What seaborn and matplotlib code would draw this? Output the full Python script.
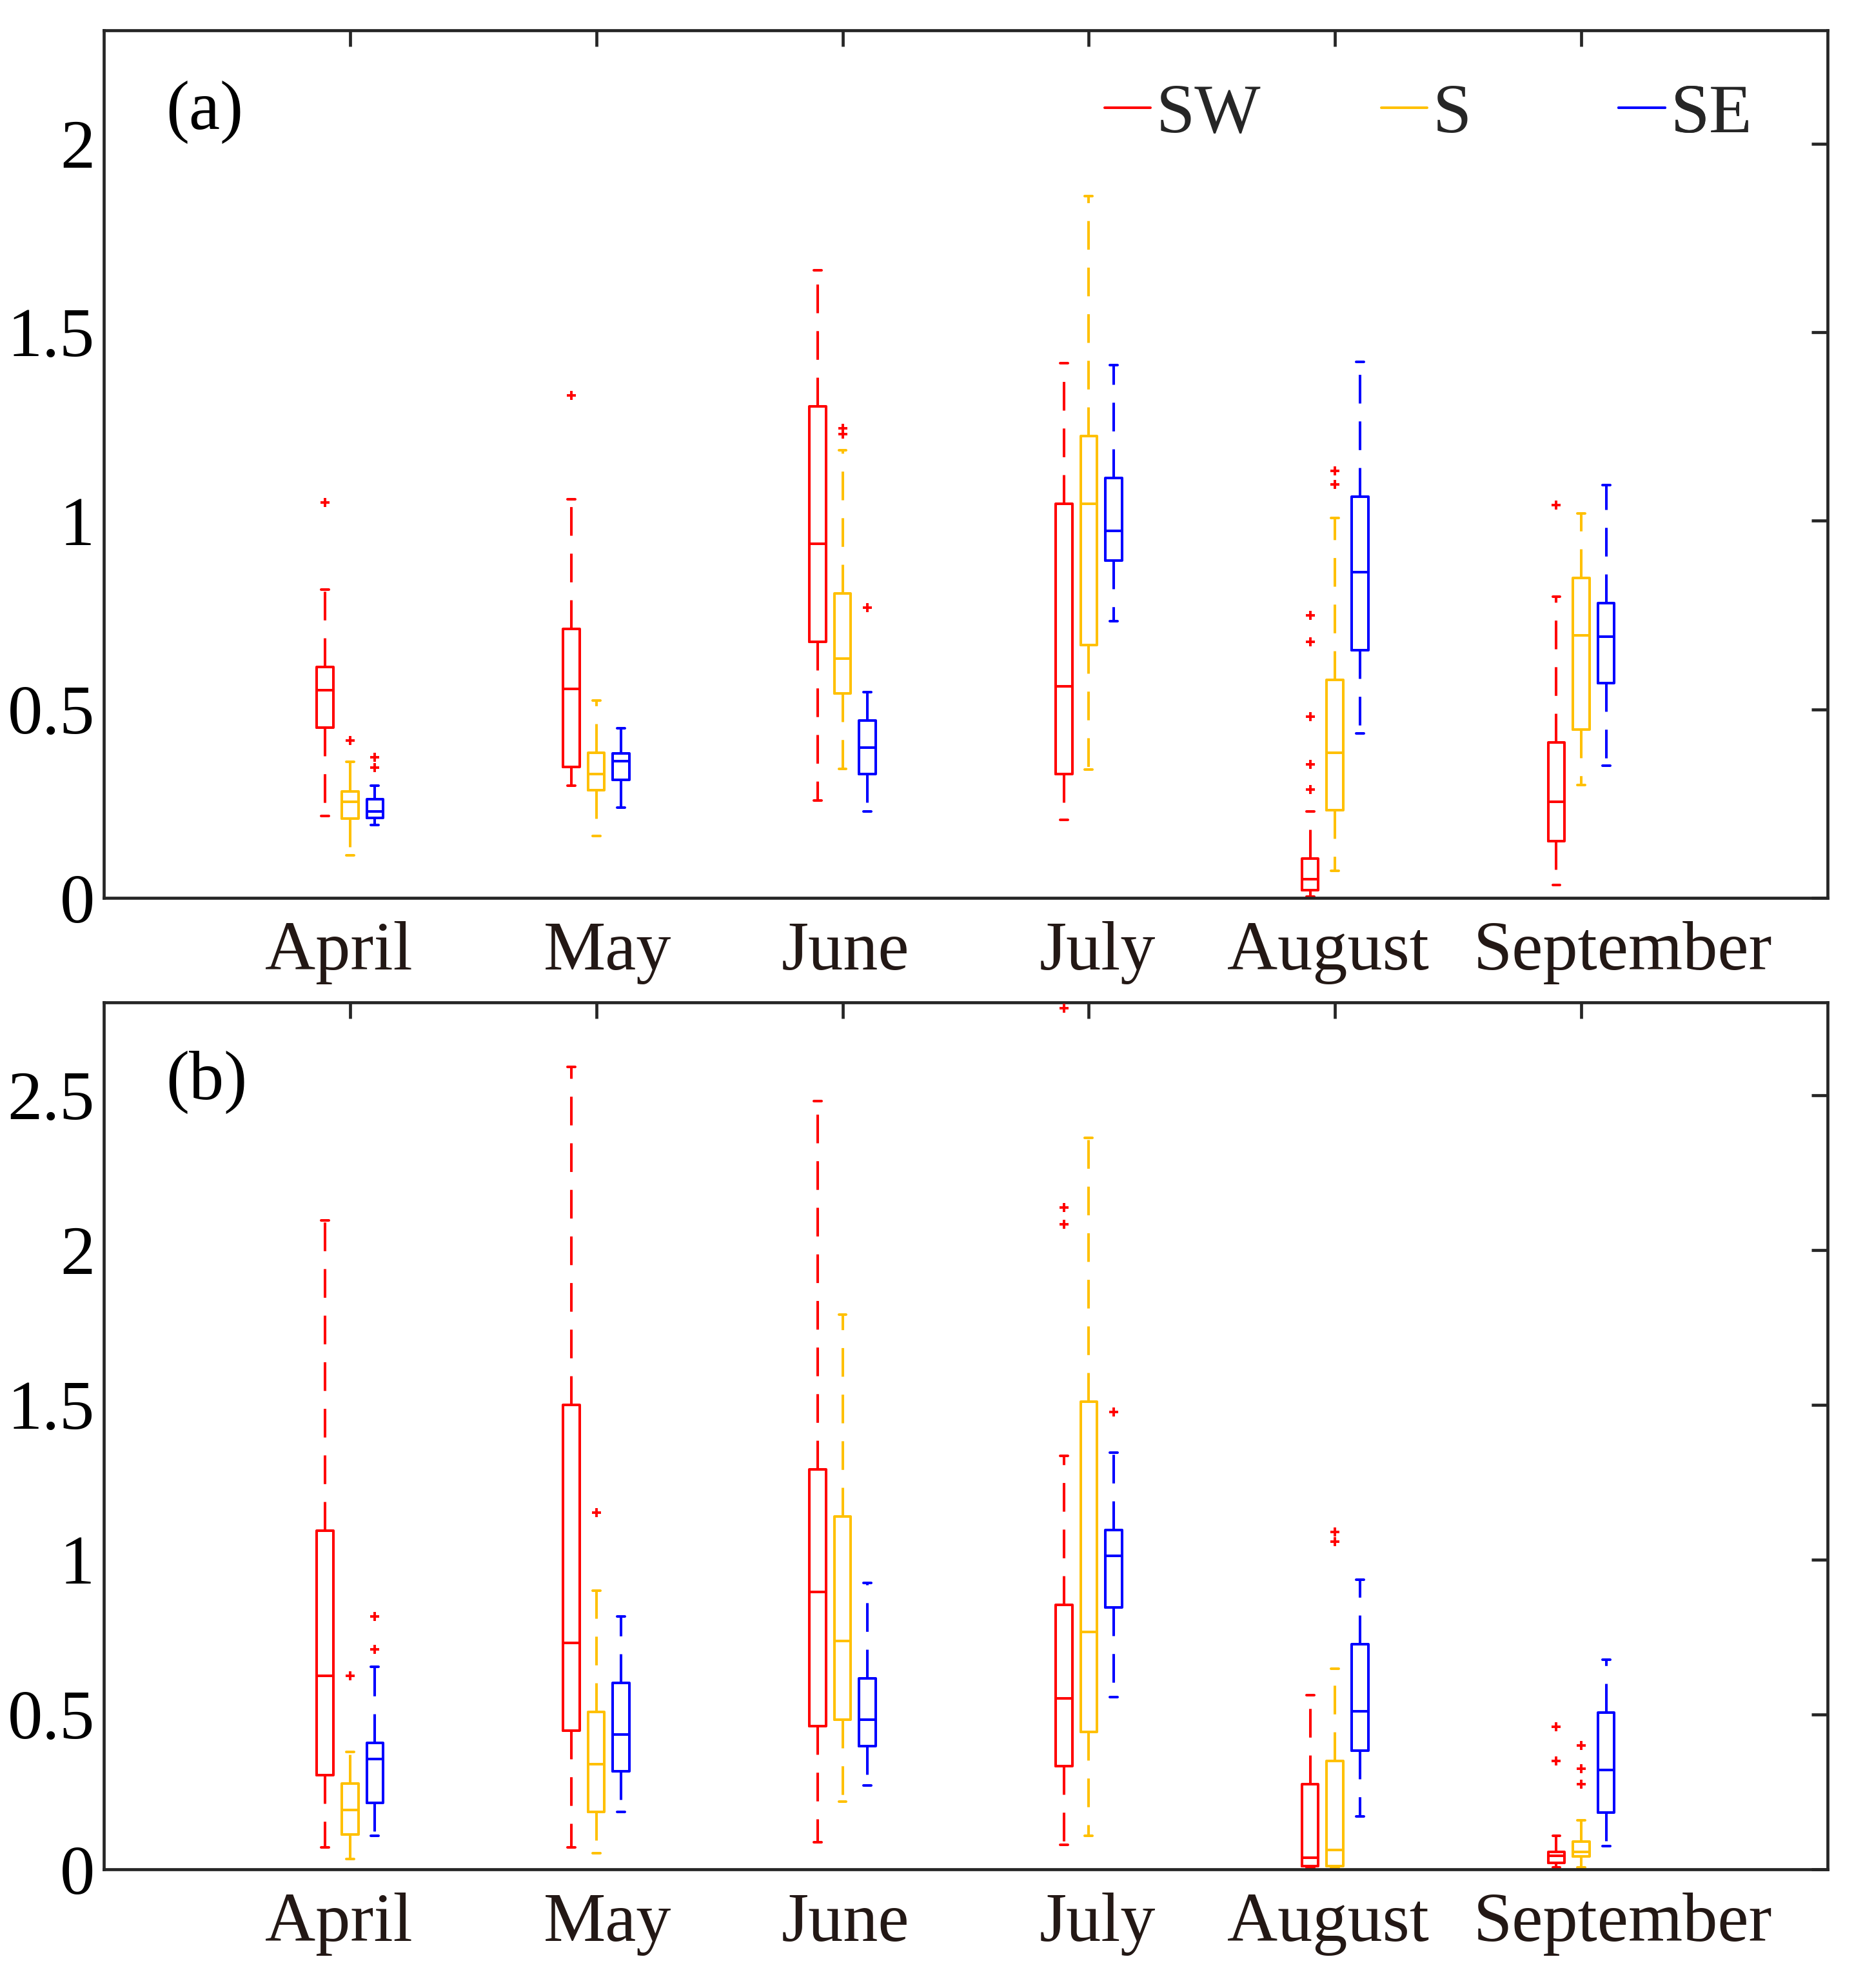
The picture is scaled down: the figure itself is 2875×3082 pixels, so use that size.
import matplotlib
matplotlib.use("Agg")
import matplotlib.pyplot as plt
from matplotlib.lines import Line2D
import seaborn as sns
import pandas as pd
import numpy as np

# ---------------- data ----------------
months = ['April', 'May', 'June', 'July', 'August', 'September']
series = ['SW', 'S', 'SE']
colors = {'SW': '#FF0000', 'S': '#FFC000', 'SE': '#0000FF'}

# panel (a)
a_SW_whislo = [0.218, 0.297, 0.259, 0.208, 0.003, 0.034]
a_SW_q1     = [0.452, 0.348, 0.679, 0.328, 0.020, 0.150]
a_SW_med    = [0.551, 0.555, 0.939, 0.561, 0.049, 0.255]
a_SW_q3     = [0.613, 0.714, 1.304, 1.045, 0.104, 0.413]
a_SW_whishi = [0.818, 1.057, 1.664, 1.418, 0.230, 0.798]
a_SW_fliers = [[1.049], [1.333], [], [], [0.750, 0.679, 0.481, 0.355, 0.287], [1.042]]

a_S_whislo = [0.113, 0.165, 0.343, 0.341, 0.072, 0.299]
a_S_q1     = [0.210, 0.286, 0.543, 0.671, 0.232, 0.447]
a_S_med    = [0.255, 0.329, 0.634, 1.045, 0.385, 0.697]
a_S_q3     = [0.282, 0.385, 0.807, 1.224, 0.578, 0.849]
a_S_whishi = [0.361, 0.523, 1.187, 1.861, 1.008, 1.020]
a_S_fliers = [[0.417], [], [1.245, 1.229], [], [1.133, 1.096], []]

a_SE_whislo = [0.193, 0.240, 0.230, 0.734, 0.437, 0.351]
a_SE_q1     = [0.213, 0.314, 0.328, 0.894, 0.657, 0.570]
a_SE_med    = [0.230, 0.363, 0.398, 0.973, 0.864, 0.692]
a_SE_q3     = [0.262, 0.383, 0.471, 1.113, 1.064, 0.782]
a_SE_whishi = [0.297, 0.450, 0.546, 1.412, 1.422, 1.094]
a_SE_fliers = [[0.373, 0.346], [], [0.770], [], [], []]

# panel (b)
b_SW_whislo = [0.070, 0.070, 0.088, 0.080, 0.004, 0.006]
b_SW_q1     = [0.305, 0.448, 0.462, 0.333, 0.010, 0.020]
b_SW_med    = [0.626, 0.732, 0.895, 0.552, 0.037, 0.043]
b_SW_q3     = [1.094, 1.500, 1.292, 0.854, 0.274, 0.057]
b_SW_whishi = [2.095, 2.592, 2.482, 1.335, 0.562, 0.108]
b_SW_fliers = [[], [], [], [2.782, 2.138, 2.083], [], [0.460, 0.350]]

b_S_whislo = [0.033, 0.053, 0.219, 0.108, 0.004, 0.006]
b_S_q1     = [0.112, 0.186, 0.484, 0.444, 0.010, 0.041]
b_S_med    = [0.192, 0.339, 0.738, 0.767, 0.063, 0.057]
b_S_q3     = [0.278, 0.509, 1.139, 1.511, 0.350, 0.090]
b_S_whishi = [0.380, 0.901, 1.791, 2.363, 0.648, 0.159]
b_S_fliers = [[0.626], [1.153], [], [], [1.090, 1.059], [0.401, 0.325, 0.274]]

b_SE_whislo = [0.108, 0.186, 0.270, 0.556, 0.170, 0.076]
b_SE_q1     = [0.215, 0.317, 0.397, 0.846, 0.384, 0.184]
b_SE_med    = [0.356, 0.435, 0.484, 1.012, 0.511, 0.321]
b_SE_q3     = [0.409, 0.603, 0.617, 1.096, 0.728, 0.507]
b_SE_whishi = [0.654, 0.816, 0.926, 1.345, 0.936, 0.677]
b_SE_fliers = [[0.816, 0.711], [], [], [1.478], [], []]

a_yticks = [0, 0.5, 1, 1.5, 2]
a_yticklabels = ['0', '0.5', '1', '1.5', '2']
b_yticks = [0, 0.5, 1, 1.5, 2, 2.5]
b_yticklabels = ['0', '0.5', '1', '1.5', '2', '2.5']
panel_labels = ['(a)', '(b)']

panels = [
    {'SW': (a_SW_whislo, a_SW_q1, a_SW_med, a_SW_q3, a_SW_whishi, a_SW_fliers),
     'S': (a_S_whislo, a_S_q1, a_S_med, a_S_q3, a_S_whishi, a_S_fliers),
     'SE': (a_SE_whislo, a_SE_q1, a_SE_med, a_SE_q3, a_SE_whishi, a_SE_fliers)},
    {'SW': (b_SW_whislo, b_SW_q1, b_SW_med, b_SW_q3, b_SW_whishi, b_SW_fliers),
     'S': (b_S_whislo, b_S_q1, b_S_med, b_S_q3, b_S_whishi, b_S_fliers),
     'SE': (b_SE_whislo, b_SE_q1, b_SE_med, b_SE_q3, b_SE_whishi, b_SE_fliers)},
]

# ---------------- style ----------------
sns.set_theme(style='white')
plt.rcParams['font.family'] = ['Liberation Serif', 'DejaVu Serif']
plt.rcParams['lines.scale_dashes'] = False

FS = 39
AXC = '#262626'
LW = 1.45
offsets = {'SW': -0.101, 'S': 0.0, 'SE': 0.101}
# month label centres (layout, as placed in the reference)
month_label_x = [0.954, 2.046, 3.012, 4.035, 4.972, 6.170]

fig = plt.figure(figsize=(14.375, 15.41), dpi=200)
ax_a = fig.add_axes([0.056, 0.5483, 0.9297, 0.4364])
ax_b = fig.add_axes([0.056, 0.0597, 0.9297, 0.4361])
axes = [ax_a, ax_b]
ylims = [(0, 2.3), (0, 2.8)]
yticks = [a_yticks, b_yticks]
yticklabels = [a_yticklabels, b_yticklabels]
label_y = [0.906, 0.908]

x_base = np.arange(1, len(months) + 1)

for ax, pdata, ylim, yt, ytl, lab, ly in zip(axes, panels, ylims, yticks,
                                              yticklabels, panel_labels, label_y):
    for s in series:
        whislo, q1, med, q3, whishi, fliers = pdata[s]
        c = colors[s]
        stats = []
        for i in range(len(months)):
            stats.append(dict(whislo=whislo[i], q1=q1[i], med=med[i], q3=q3[i],
                              whishi=whishi[i], fliers=[]))
        pos = x_base + offsets[s]
        ax.bxp(stats, positions=pos, widths=0.067, capwidths=0.031,
               showfliers=False, manage_ticks=False,
               boxprops=dict(color=c, linewidth=LW),
               medianprops=dict(color=c, linewidth=LW),
               whiskerprops=dict(color=c, linewidth=LW, linestyle=(0, (16, 10))),
               capprops=dict(color=c, linewidth=LW))
        fx, fy = [], []
        for i, fl in enumerate(fliers):
            for v in fl:
                fx.append(pos[i])
                fy.append(v)
        if fx:
            df = pd.DataFrame({'x': fx, 'y': fy})
            sns.scatterplot(data=df, x='x', y='y', marker='+', color='#FF0000',
                            s=24, linewidth=1.4, ax=ax, zorder=4, legend=False)

    ax.set_xlim(0, 7)
    ax.set_ylim(*ylim)
    ax.set_xticks(x_base)
    ax.set_xticklabels([''] * len(months))
    ax.set_xticks(month_label_x, minor=True)
    ax.set_xticklabels(months, minor=True, fontsize=FS, color='#231815')
    ax.set_yticks(yt)
    ax.set_yticklabels(ytl, fontsize=FS, color='black')
    ax.set_xlabel('')
    ax.set_ylabel('')
    ax.tick_params(axis='both', which='major', direction='in', length=9,
                   width=1.7, color=AXC, top=True, right=True)
    ax.tick_params(axis='x', which='minor', length=0, pad=13, top=False)
    ax.tick_params(axis='y', which='minor', left=False, right=False)
    ax.tick_params(axis='y', pad=5)
    for sp in ax.spines.values():
        sp.set_visible(True)
        sp.set_linewidth(1.7)
        sp.set_color(AXC)
    ax.text(0.036, ly, lab, transform=ax.transAxes, fontsize=FS, va='center',
            ha='left', color='black')
    ax.grid(False)

# legend: one entry per series placed at the reference positions
leg_x = {'SW': 0.5806, 'S': 0.741, 'SE': 0.879}
for s in series:
    h = Line2D([0], [0], color=colors[s], linewidth=LW)
    leg = ax_a.legend([h], [s], frameon=False, loc='center left',
                      bbox_to_anchor=(leg_x[s], 0.902), borderaxespad=0,
                      borderpad=0, handlelength=0.66, handletextpad=0.08,
                      fontsize=FS)
    ax_a.add_artist(leg)

fig.savefig('out.png', dpi=200)
